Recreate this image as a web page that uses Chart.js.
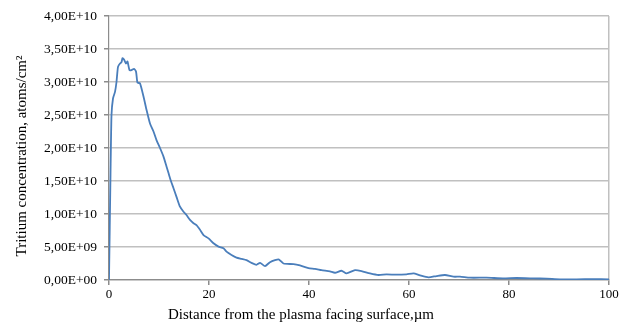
<!DOCTYPE html>
<html>
<head>
<meta charset="utf-8">
<script src="https://cdn.jsdelivr.net/npm/chart.js@4/dist/chart.umd.min.js"></script>
<style>
  html, body { margin: 0; padding: 0; background: #fff; }
  canvas { display: block; }
</style>
</head>
<body>
<canvas id="tritiumChart" width="627" height="329"></canvas>
<script>
// Distance from surface (um) and tritium concentration (atoms/cm2)
const depth = [
    0, 0.3, 0.5, 0.8, 1.2, 1.5, 1.8, 2.2, 2.5, 2.7, 3.0, 3.2, 3.4, 3.7, 4.1, 4.5,
    5.0, 5.4, 5.7, 6.2, 6.9, 7.5, 8.2, 8.9, 9.5, 10.2, 10.9, 11.5, 11.9, 12.3, 12.9,
    13.5, 14.2, 14.9, 15.5, 16.2, 16.9, 17.5, 18.2, 18.9, 19.9, 20.9, 21.9, 22.9,
    23.5, 24.5, 25.5, 26.5, 27.5, 28.5, 29.5, 30.2, 31.2, 32.2, 33.2, 34.0, 34.9,
    36.9, 38.2, 39.9, 41.2, 42.5, 44.2, 45.2, 46.5, 47.5, 49.2, 50.5, 52.2, 53.9,
    55.5, 57.5, 59.5, 60.9, 62.2, 63.9, 65.5, 67.2, 68.9, 70.2, 72.2, 75.5, 78.8,
    81.5, 84.8, 87.5, 90.2, 93.5, 96.8, 100
];
const concentration = [
    0, 1.6e10, 2.5e10, 2.75e10, 2.85e10, 3.0e10, 3.23e10, 3.28e10, 3.3e10, 3.36e10, 3.34e10, 3.31e10, 3.28e10, 3.31e10, 3.18e10, 3.18e10,
    3.2e10, 3.16e10, 2.99e10, 2.98e10, 2.78e10, 2.58e10, 2.37e10, 2.25e10, 2.12e10, 2.0e10, 1.87e10, 1.72e10, 1.62e10, 1.52e10, 1.39e10,
    1.26e10, 1.11e10, 1.035e10, 9.85e9, 9.1e9, 8.6e9, 8.3e9, 7.6e9, 6.8e9, 6.3e9, 5.56e9, 5.05e9, 4.8e9,
    4.3e9, 3.8e9, 3.4e9, 3.2e9, 3.0e9, 2.6e9, 2.3e9, 2.6e9, 2.1e9, 2.7e9, 3.0e9, 3.1e9, 2.5e9,
    2.4e9, 2.2e9, 1.8e9, 1.7e9, 1.5e9, 1.3e9, 1.1e9, 1.4e9, 1.0e9, 1.5e9, 1.36e9, 1.0e9, 7.6e8,
    8.6e8, 8.0e8, 8.6e8, 1.0e9, 7.0e8, 4.0e8, 6.0e8, 7.6e8, 5.0e8, 5.0e8, 3.5e8, 3.5e8, 2.5e8,
    3.0e8, 2.5e8, 2.0e8, 1.0e8, 1.0e8, 1.2e8, 1.0e8
];

const xTickLabels = ['0', '20', '40', '60', '80', '100'];
const yTickLabels = ['0,00E+00', '5,00E+09', '1,00E+10', '1,50E+10', '2,00E+10', '2,50E+10', '3,00E+10', '3,50E+10', '4,00E+10'];

const xTitle = 'Distance from the plasma facing surface,\u00b5m';
const yTitle = 'Tritium concentration, atoms/cm\u00b2';

const serif = '"Liberation Serif", "Times New Roman", serif';
const gridColor = '#c0c0c0';
const axisColor = '#8c8c8c';

// axis titles drawn by hand, Excel placed them off-centre
const axisTitles = {
    id: 'axisTitles',
    afterDraw(chart) {
        const c = chart.ctx;
        c.save();
        c.fillStyle = '#000';
        c.font = '15px ' + serif;
        c.textAlign = 'center';
        c.textBaseline = 'middle';
        c.fillText(xTitle, 301, 315);
        c.translate(22, 156);
        c.rotate(-Math.PI / 2);
        c.fillText(yTitle, 0, 0);
        c.restore();
    }
};

const ctx = document.getElementById('tritiumChart').getContext('2d');
const points = depth.map((d, i) => ({ x: d, y: concentration[i] }));

new Chart(ctx, {
    type: 'line',
    data: {
        datasets: [{
            data: points,
            borderColor: 'rgb(74, 126, 187)',
            borderWidth: 1.8,
            pointRadius: 0,
            tension: 0.2,
            fill: false
        }]
    },
    options: {
        responsive: false,
        animation: false,
        layout: { padding: { top: 16, right: 18, left: 0, bottom: 0 } },
        plugins: {
            legend: { display: false },
            tooltip: { enabled: false }
        },
        scales: {
            x: {
                type: 'linear',
                min: 0,
                max: 100,
                afterFit: (scale) => { scale.height = 49; },
                ticks: {
                    stepSize: 20,
                    color: '#000',
                    font: { family: serif, size: 13 },
                    padding: 2,
                    maxRotation: 0,
                    callback: (v) => xTickLabels[v / 20]
                },
                grid: {
                    color: (c) => (c.tick && c.tick.value === 100 ? gridColor : 'transparent'),
                    tickColor: axisColor,
                    tickLength: 5,
                    lineWidth: 1.5
                },
                border: { color: axisColor, width: 1.2 }
            },
            y: {
                min: 0,
                max: 4e10,
                afterFit: (scale) => { scale.width = 109; },
                ticks: {
                    stepSize: 5e9,
                    color: '#000',
                    font: { family: serif, size: 13.5 },
                    padding: 7,
                    callback: (v) => yTickLabels[Math.round(v / 5e9)]
                },
                grid: {
                    color: gridColor,
                    tickColor: axisColor,
                    tickLength: 5,
                    lineWidth: 1.5
                },
                border: { color: axisColor, width: 1.2 }
            }
        }
    },
    plugins: [axisTitles]
});
</script>
</body>
</html>
